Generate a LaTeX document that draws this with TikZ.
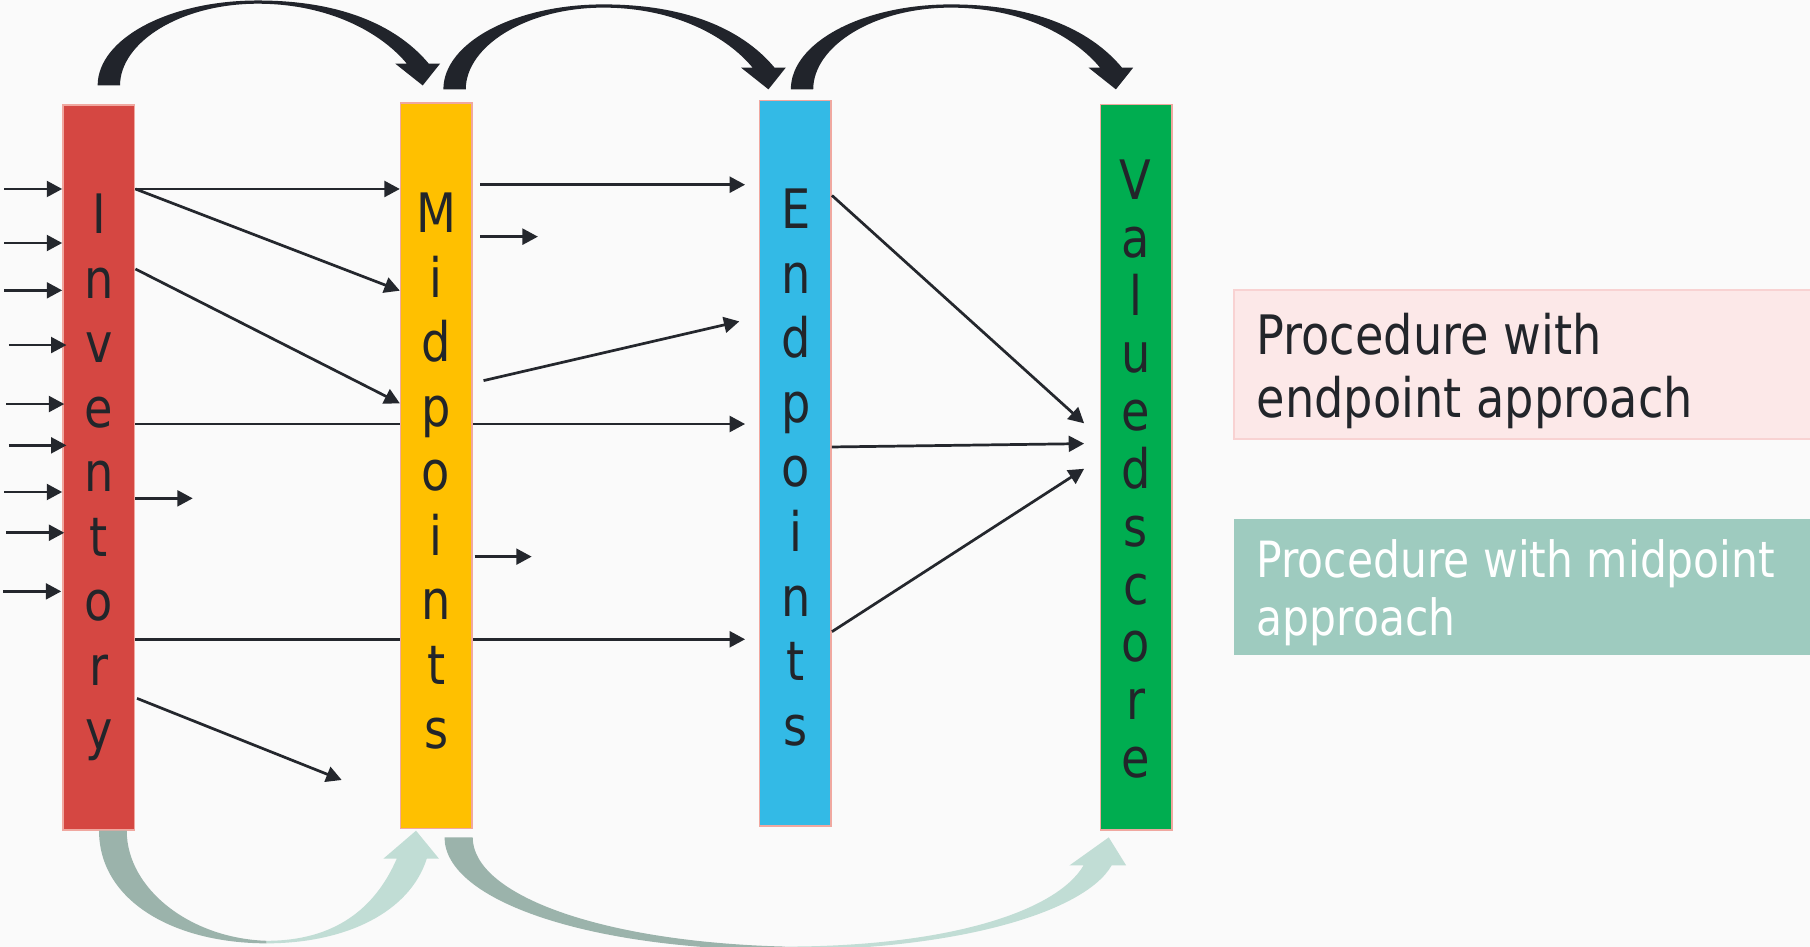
\documentclass[tikz,border=0pt]{standalone}
\usepackage{fontspec}
\setmainfont{DejaVu Sans}[FakeStretch=0.85]
\usetikzlibrary{arrows.meta,calc}
\pgfdeclarelayer{behind}
\pgfsetlayers{behind,main}
\definecolor{bg}{HTML}{FAFAFA}
\definecolor{linec}{HTML}{24272D}
\definecolor{txt}{HTML}{22252A}
\definecolor{invred}{HTML}{D54742}
\definecolor{midyel}{HTML}{FFC000}
\definecolor{endblue}{HTML}{33BAE6}
\definecolor{valgreen}{HTML}{00AD50}
\definecolor{barline}{HTML}{F0A8A0}
\definecolor{topdark}{HTML}{21242B}
\definecolor{botdark}{HTML}{9BB3AB}
\definecolor{botlight}{HTML}{C1DDD5}
\definecolor{pinkfill}{HTML}{FCE8E8}
\definecolor{pinkline}{HTML}{F8D2D2}
\definecolor{greenfill}{HTML}{9ECBBF}
\begin{document}
\begin{tikzpicture}[x=0.01cm,y=-0.01cm,
  bar/.style={rectangle, draw=barline, line width=0.4pt, inner sep=0pt,
    minimum width=0.62cm, minimum height=6.28cm},
  barlabel/.style={anchor=north, inner sep=0pt, align=center, text=txt,
    font={\fontsize{13.4}{15.9}\selectfont}},
  arr/.style={draw=linec, line width=0.67pt, -{Triangle[length=3.8pt,width=3.9pt]}},
  boxtext/.style={anchor=north west, inner sep=0pt, align=left},
  toparc/.pic={\fill[topdark] (0,0) .. controls (0,-40.6) and (62.1,-73.6) .. (138.6,-73.6)
      .. controls (215.9,-73.6) and (261.9,-48.8) .. (286.9,-18.8)
      -- (296.6,-18.8) -- (281.6,0) -- (257.9,-18.8) -- (267.9,-18.8)
      .. controls (245.9,-45.4) and (200.9,-70.8) .. (138.6,-70.8)
      .. controls (71.9,-70.8) and (19.4,-37.4) .. (19.4,0) -- cycle;}
]
\useasboundingbox (0,0) rectangle (1568,820);
\begin{pgfonlayer}{behind}
\fill[bg] (0,0) rectangle (1568,820);
\end{pgfonlayer}
\clip (0,0) rectangle (1568,820);

% bars (nodes)
\path
  node[bar, fill=invred]   (inv) at (85.6,405)  {}
  node[bar, fill=midyel]   (mid) at (378.1,403.4) {}
  node[bar, fill=endblue]  (end) at (689,401.1) {}
  node[bar, fill=valgreen] (val) at (984.4,404.6) {};

% long lines passing behind the Midpoints bar
\begin{pgfonlayer}{behind}
\draw[arr] (inv.east |- 0,367.3) -- ([xshift=-0.118cm]end.west |- 0,367.3);
\draw[arr] (inv.east |- 0,553.8) -- ([xshift=-0.118cm]end.west |- 0,553.8);
\end{pgfonlayer}

% bar labels
\node[barlabel] (invt) at (85.8,167.3) {I\\n\\v\\e\\n\\t\\o\\r\\y};
\node[barlabel] (midt) at (377.8,166.4) {M\\i\\d\\p\\o\\i\\n\\t\\s};
\node[barlabel] (endt) at (689.4,163.1) {E\\n\\d\\p\\o\\i\\n\\t\\s};
\node[barlabel, font={\fontsize{13.4}{14.23}\selectfont}] (valt) at (983.9,137.9)
  {V\\a\\l\\u\\e\\d\\s\\c\\o\\r\\e};

% incoming arrows into Inventory
\coordinate (in1) at (3.7,163.7);
\coordinate (in2) at (3.7,210.5);
\coordinate (in3) at (3.7,251.5);
\coordinate (in4) at (7.7,298.9);
\coordinate (in5) at (5.6,350);
\coordinate (in6) at (7.7,385.8);
\coordinate (in7) at (3.7,426.2);
\coordinate (in8) at (5.6,461.5);
\coordinate (in9) at (2.7,512.3);
\draw[arr] (in1) -- (inv.west |- in1);
\draw[arr] (in2) -- (inv.west |- in2);
\draw[arr] (in3) -- (inv.west |- in3);
\draw[arr] (in4) -- ([xshift=0.037cm]inv.west |- in4);
\draw[arr] (in5) -- ([xshift=0.018cm]inv.west |- in5);
\draw[arr] (in6) -- ([xshift=0.037cm]inv.west |- in6);
\draw[arr] (in7) -- (inv.west |- in7);
\draw[arr] (in8) -- ([xshift=0.018cm]inv.west |- in8);
\draw[arr] (in9) -- ([xshift=-0.008cm]inv.west |- in9);

% Inventory -> Midpoints
\draw[arr] (inv.east |- 0,163.7) -- (mid.west |- 0,163.7);
\draw[arr] (inv.east |- 0,163.7) -- (mid.west |- 0,251.8);
\draw[arr] (inv.east |- 0,233) -- (mid.west |- 0,349.4);
\coordinate (invs1) at (167,431.7);
\draw[arr] (inv.east |- invs1) -- (invs1);
\coordinate (invd1s) at (118.7,605);
\coordinate (invd1e) at (296,675.7);
\draw[arr] (invd1s) -- (invd1e);

% Midpoints -> Endpoints
\draw[arr] ([xshift=0.062cm]mid.east |- 0,160) -- ([xshift=-0.118cm]end.west |- 0,160);
\coordinate (mids1) at (466,205);
\draw[arr] ([xshift=0.062cm]mid.east |- mids1) -- (mids1);
\coordinate (midds) at (418.9,329.7);
\coordinate (midde) at (640.5,278.4);
\draw[arr] (midds) -- (midde);
\coordinate (mids2) at (460.6,482.2);
\draw[arr] ([xshift=0.013cm]mid.east |- mids2) -- (mids2);

% Endpoints -> Valuescore
\draw[arr] (end.east |- 0,169.3) -- ([xshift=-0.135cm]val.west |- 0,366.7);
\draw[arr] (end.east |- 0,387.2) -- ([xshift=-0.135cm]val.west |- 0,384.3);
\draw[arr] (end.east |- 0,547.2) -- ([xshift=-0.135cm]val.west |- 0,406.1);

% top curved arrows
\pic at (84.6,74.0) {toparc};
\pic at (384.1,77.4) {toparc};
\pic at (685.1,77.4) {toparc};

% bottom curved arrows
\fill[botdark] (85.8,719.6) .. controls (85.8,780) and (150,817.2) .. (231,817.2)
  -- (231,815) .. controls (165,813) and (109.8,770) .. (109.8,719.6) -- cycle;
\fill[botlight] (231,817.2) .. controls (300,817.2) and (355,790) .. (369.7,743.9)
  -- (380.3,743.9) -- (360.4,719.6) -- (332.1,743.9) -- (343.7,743.9)
  .. controls (325,787) and (290,815) .. (231,815) -- cycle;
\fill[botdark] (385.1,725.4) .. controls (385.1,780) and (510,823) .. (680,823)
  -- (680,820) .. controls (520,816) and (409.5,775) .. (409.5,725.4) -- cycle;
\fill[botlight] (680,823) .. controls (830,823) and (940,790) .. (963,749.7)
  -- (975.6,749.7) -- (960.5,725.4) -- (926.5,749.7) -- (938.7,749.7)
  .. controls (915,790) and (820,820) .. (680,820) -- cycle;

% legend boxes
\node[rectangle, draw=pinkline, fill=pinkfill, line width=0.5pt, inner sep=0pt,
  minimum width=5.03cm, minimum height=1.294cm] (pbox) at (1320.5,315.9) {};
\node[rectangle, fill=greenfill, inner sep=0pt,
  minimum width=5.03cm, minimum height=1.178cm] (gbox) at (1320.5,508.5) {};
\node[boxtext, text=txt, font={\fontsize{13.4}{15.45}\selectfont}] (ptext)
  at (1087.9,270.9) {Procedure with\\endpoint approach};
\node[boxtext, text=white, font={\fontsize{12.3}{14.4}\selectfont}] (gtext)
  at (1087.9,466.7) {Procedure with midpoint\\approach};
\end{tikzpicture}
\end{document}
